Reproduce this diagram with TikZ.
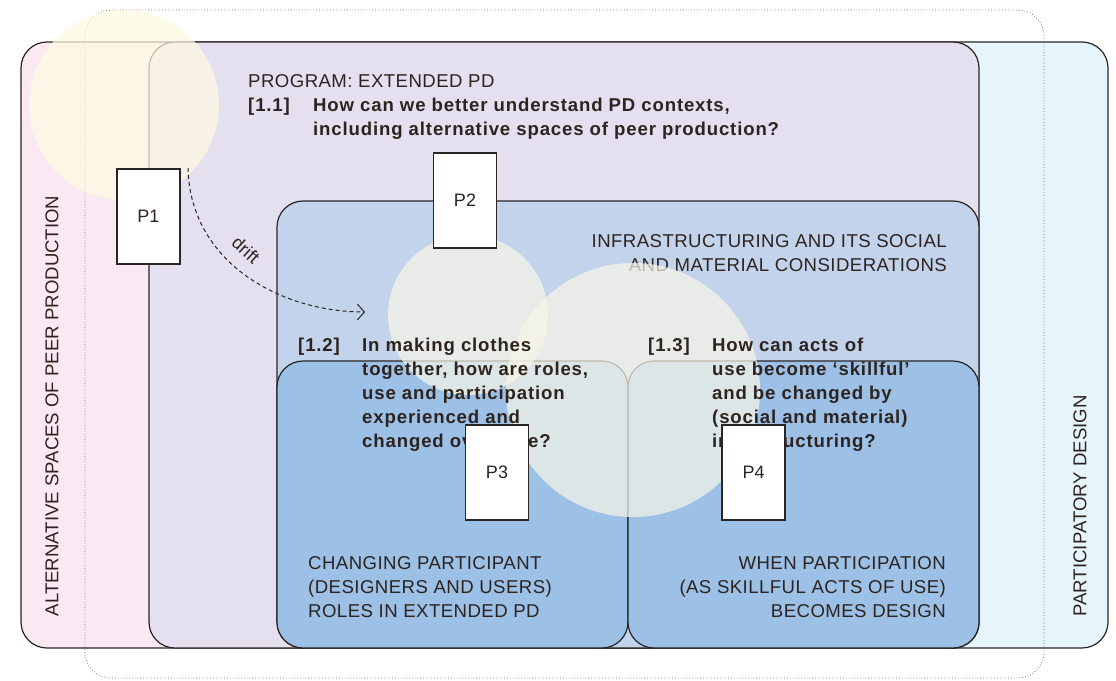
\documentclass[tikz,border=0pt]{standalone}
\usepackage{fontspec}
\setmainfont{Liberation Sans}
\newfontfamily\qfont[LetterSpace=4.6]{Liberation Sans}
\newfontfamily\lfont[LetterSpace=2.4]{Liberation Sans}
\usetikzlibrary{arrows.meta}
\definecolor{pinkbg}{HTML}{FAE9F2}
\definecolor{purplebg}{HTML}{E4E0F0}
\definecolor{ltblue}{HTML}{E6F4FC}
\definecolor{midblue}{HTML}{C3D3EC}
\definecolor{darkblue}{HTML}{9CC0E6}
\definecolor{txt}{HTML}{2D231F}
\definecolor{edge}{HTML}{2A2522}
\definecolor{dotc}{HTML}{7A7A7A}
\definecolor{circY}{HTML}{FFFAE2}
\definecolor{circW}{HTML}{F7F5E6}
\newcommand\lblk[1]{\vtop{\halign{##\hfil\cr#1\crcr}}}
\newcommand\rblk[1]{\vtop{\halign{\hfil##\cr#1\crcr}}}
\tikzset{
  box/.style={draw=edge, line width=1.2pt, rounded corners=26pt},
  reg/.style={text=txt, inner sep=0pt, font=\lfont\fontsize{18.6}{24}\selectfont},
  side/.style={text=txt, inner sep=0pt, font=\fontsize{18.6}{24}\selectfont},
  bq/.style={text=txt, inner sep=0pt, font=\qfont\bfseries\fontsize{18.6}{24}\selectfont},
  pbox/.style={draw=edge, fill=white, line width=1.2pt, minimum width=63pt, minimum height=95pt, inner sep=0pt, text=txt, font=\fontsize{18}{22}\selectfont},
  bubble/.style={opacity=0.72},
}
\begin{document}
\begin{tikzpicture}[x=1pt,y=-1pt]
\useasboundingbox (0,0) rectangle (1116,680);
% outer box (pink + light blue)
\begin{scope}
  \clip[rounded corners=26pt] (21,42) rectangle (1108,648);
  \fill[pinkbg] (21,42) rectangle (600,648);
  \fill[ltblue] (600,42) rectangle (1108,648);
\end{scope}
\draw[box] (21,42) rectangle (1108,648);
% program box
\filldraw[box, fill=purplebg] (149,42) rectangle (979,648);
% infrastructuring box
\filldraw[box, fill=midblue] (277,201) rectangle (979,648);
% lower boxes
\filldraw[box, fill=darkblue] (277,361) rectangle (628,648);
\filldraw[box, fill=darkblue] (628,361) rectangle (979,648);
% dotted frame
\draw[dotc, dotted, line width=0.8pt, rounded corners=26pt] (85,10) rectangle (1044,678);
% infrastructuring label
\node[reg, anchor=base east] (infra) at (947,247) {\rblk{INFRASTRUCTURING AND ITS SOCIAL\cr AND MATERIAL CONSIDERATIONS}};
% bubbles
\fill[circY, bubble] (124,105) circle (95);
\fill[circW, bubble] (468,315) circle (80);
\fill[circW, bubble] (633,390) circle (127);
% texts
\node[reg, anchor=base west] (prog) at (248,87) {PROGRAM: EXTENDED PD};
\node[bq, anchor=base west] (n11) at (248,111) {[1.1]};
\node[bq, anchor=base west] (q11) at (313,111) {\lblk{How can we better understand PD contexts,\cr including alternative spaces of peer production?}};
\node[bq, anchor=base west] (n12) at (298,351) {[1.2]};
\node[bq, anchor=base west] (q12) at (362,351) {\lblk{In making clothes\cr together, how are roles,\cr use and participation\cr experienced and\cr changed over time?}};
\node[bq, anchor=base west] (n13) at (648,351) {[1.3]};
\node[bq, anchor=base west] (q13) at (712,351) {\lblk{How can acts of\cr use become ‘skillful’\cr and be changed by\cr (social and material)\cr infrastructuring?}};
\node[reg, anchor=base west] (lab3) at (308,569) {\lblk{CHANGING PARTICIPANT\cr (DESIGNERS AND USERS)\cr ROLES IN EXTENDED PD}};
\node[reg, anchor=base east] (lab4) at (946,569) {\rblk{WHEN PARTICIPATION\cr (AS SKILLFUL ACTS OF USE)\cr BECOMES DESIGN}};
\node[side, rotate=90] (alt) at (52,406) {ALTERNATIVE SPACES OF PEER PRODUCTION};
\node[side, rotate=90] (pd) at (1080,506) {PARTICIPATORY DESIGN};
% P boxes
\node[pbox] (p1) at (148.5,216.5) {P1};
\node[pbox] (p2) at (465,200.5) {P2};
\node[pbox] (p3) at (497,472.5) {P3};
\node[pbox] (p4) at (753.5,472.5) {P4};
% drift
\coordinate (ds) at (188,168);
\coordinate (de) at (365,312);
\draw[edge, line width=1pt, dash pattern=on 4pt off 3pt, -{Straight Barb[length=7pt,width=16pt]}] (ds) .. controls (190,262) and (280,312) .. (de);
\node[text=txt, inner sep=0pt, font=\fontsize{18}{20}\selectfont, rotate=-42] (drift) at (246,250) {drift};
\end{tikzpicture}
\end{document}
